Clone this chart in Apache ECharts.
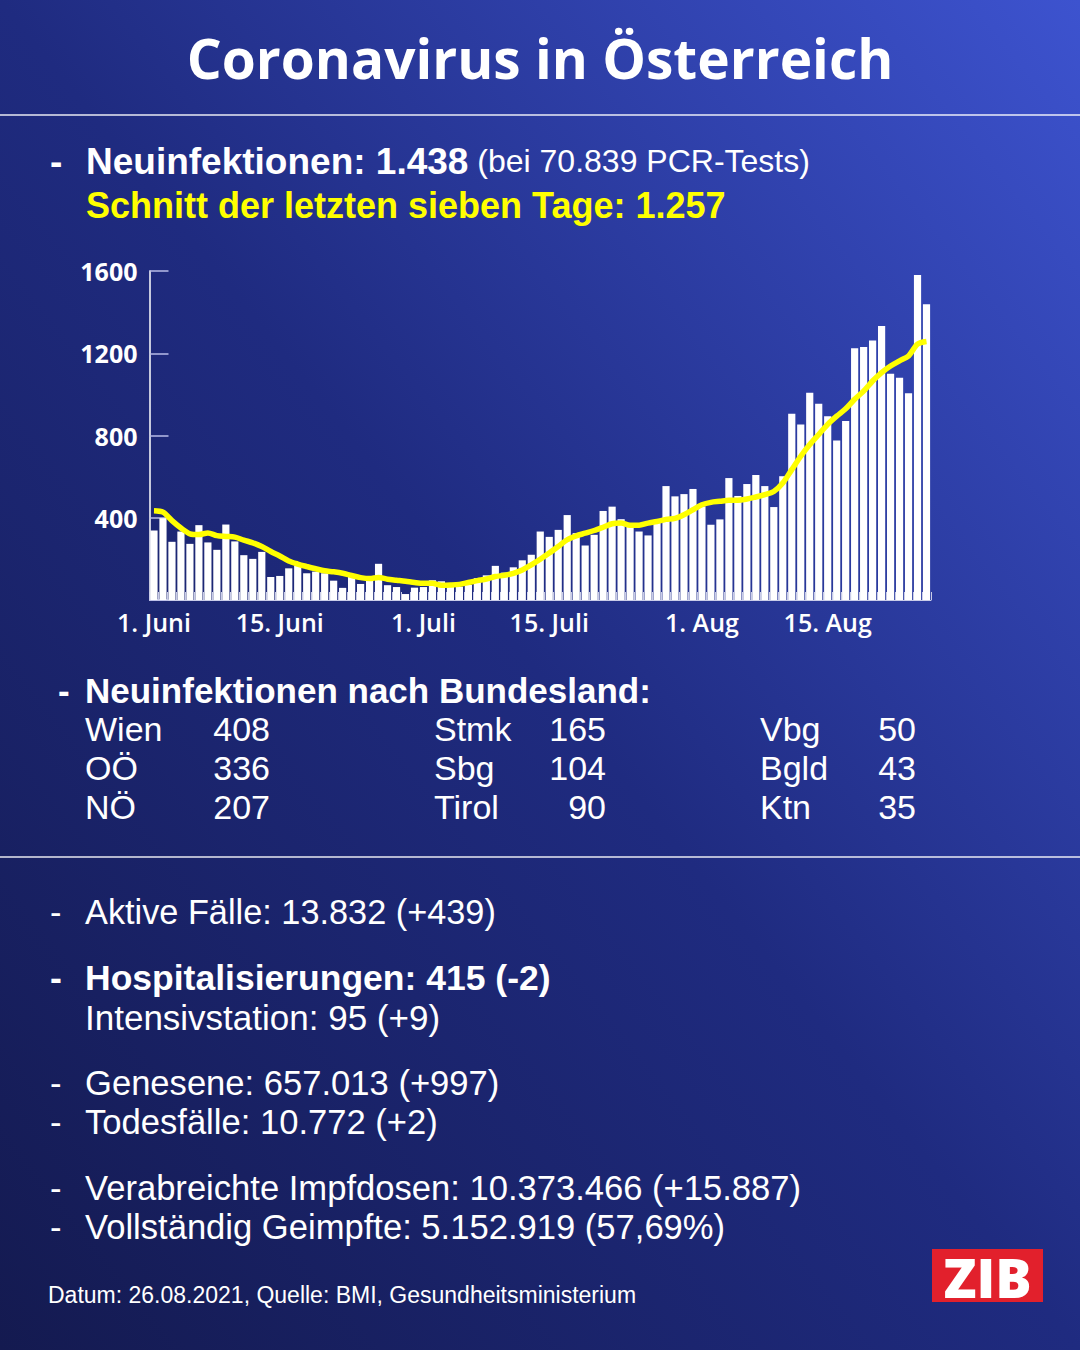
<!DOCTYPE html>
<html>
<head>
<meta charset="utf-8">
<script src="https://cdn.jsdelivr.net/npm/echarts@6/dist/echarts.min.js"></script>
<style>
html,body{margin:0;padding:0;width:1080px;height:1350px;overflow:hidden;background:#1c2670;}
#c{width:1080px;height:1350px;}
</style>
</head>
<body>
<div id="c"></div>
<script>
// ---- Data ----
const newCases = [
  338,398,283,333,273,364,280,244,367,285,218,200,234,112,117,154,167,130,138,130,94,59,114,78,94,176,72,63,29,60,
  63,96,91,73,65,73,106,120,166,133,159,193,220,333,307,341,413,325,265,317,433,454,393,365,333,314,374,554,504,515,540,
  455,366,392,593,506,564,608,554,452,602,906,854,1008,954,894,776,870,1224,1230,1262,1333,1100,1081,1005,1580,1438
];
const avg7 = [
  434,427,386,350,322,318,326,313,309,306,291,278,260,236,214,190,175,163,152,142,137,130,119,109,104,110,101,96,91,85,
  81,81,72,73,76,85,94,102,114,120,130,146,171,198,228,260,293,312,325,338,354,371,374,364,364,374,382,392,397,415,439,
  463,475,480,485,485,491,501,512,528,569,634,699,756,805,854,894,930,976,1016,1065,1106,1138,1163,1187,1244,1257
];
const monthNames = ['Juni','Juli','Aug'];
const monthLengths = [30,31,26];
const tickIndex = [0,14,30,44,61,75];
const tickLabels = ['1. Juni','15. Juni','1. Juli','15. Juli','1. Aug','15. Aug'];
const yTicks = [400,800,1200,1600];

const states = [
  ['Wien',408],['OÖ',336],['NÖ',207],
  ['Stmk',165],['Sbg',104],['Tirol',90],
  ['Vbg',50],['Bgld',43],['Ktn',35]
];

const days = [];
monthNames.forEach((m,mi)=>{ for(let d=1; d<=monthLengths[mi]; d++) days.push(d+'. '+m); });

// ---- Layout ----
const FT = '"Open Sans", "Noto Sans", sans-serif';
const FB = '"Liberation Sans", Arial, sans-serif';
const W = '#ffffff';
const graphics = [];
function txt(x,y,text,size,weight,color,align,fam){
  graphics.push({type:'text', x:x, y:y, z:10, style:{text:text, fill:color||W,
    font: (weight||'normal')+' '+size+'px '+(fam||FB), lineHeight:Math.round(size*0.95),
    align:align||'left', verticalAlign:'middle'}});
}
function hline(y){
  graphics.push({type:'line', z:5, shape:{x1:0,y1:y,x2:1080,y2:y}, style:{stroke:'rgba(255,255,255,0.9)', lineWidth:1.5}});
}

txt(540,57,'Coronavirus in Österreich',55,'bold',W,'center',FT);
hline(115);
txt(50,161,'-',37,'bold');
graphics.push({type:'text', x:86, y:161, z:10, style:{
  text:'{b|Neuinfektionen: 1.438}{n| (bei 70.839 PCR-Tests)}', verticalAlign:'middle', lineHeight:35,
  rich:{ b:{fill:W, font:'bold 37px '+FB, lineHeight:35}, n:{fill:W, font:'normal 32px '+FB, lineHeight:35} } }});
txt(86,205,'Schnitt der letzten sieben Tage: 1.257',36,'bold','#ffff00');

txt(58,690,'-',35,'bold');
txt(85,690,'Neuinfektionen nach Bundesland:',35,'bold');
const colName = [85,434,760], colNum = [270,606,916], rowY = [729,768,807];
states.forEach((s,i)=>{
  const c = Math.floor(i/3), r = i%3;
  txt(colName[c], rowY[r], s[0], 34, 'normal');
  txt(colNum[c], rowY[r], String(s[1]), 34, 'normal', W, 'right');
});
hline(857);

const stats = [
  [912,'Aktive Fälle: 13.832 (+439)','normal',true,34.3],
  [977.5,'Hospitalisierungen: 415 (-2)','bold',true,35.5],
  [1017.5,'Intensivstation: 95 (+9)','normal',false,35],
  [1082.5,'Genesene: 657.013 (+997)','normal',true,34.6],
  [1121.5,'Todesfälle: 10.772 (+2)','normal',true,34.6],
  [1188,'Verabreichte Impfdosen: 10.373.466 (+15.887)','normal',true,34.6],
  [1227,'Vollständig Geimpfte: 5.152.919 (57,69%)','normal',true,34.6]
];
stats.forEach(s=>{
  if(s[3]) txt(50,s[0],'-',s[4],s[2]);
  txt(85,s[0],s[1],s[4],s[2]);
});
txt(48,1295,'Datum: 26.08.2021, Quelle: BMI, Gesundheitsministerium',23,'normal');

graphics.push({type:'rect', z:10, shape:{x:932,y:1249,width:111,height:53}, style:{fill:'#e2202c'}});
txt(987.5,1277,'ZIB',54,'800',W,'center',FT);

const chart = echarts.init(document.getElementById('c'), null, {renderer:'svg'});
chart.setOption({
  backgroundColor:{type:'linear', x:0, y:1, x2:1, y2:0, colorStops:[
    {offset:0,color:'#141a50'},{offset:0.5,color:'#1f2b80'},{offset:1,color:'#3d53cf'}]},
  animation:false,
  grid:{left:149.5, right:149, top:271, bottom:750},
  xAxis:{type:'category', data:days, boundaryGap:true,
    axisLine:{show:true, lineStyle:{color:'#c9cce8', width:1}},
    axisTick:{show:true, inside:true, length:8, interval:0, lineStyle:{color:'#c9cce8'}},
    axisLabel:{interval:0, margin:9, color:W, fontFamily:FT, fontSize:25, fontWeight:600,
      formatter:(v,i)=>{ const k = tickIndex.indexOf(i); return k>=0 ? tickLabels[k] : ''; }},
    splitLine:{show:false}},
  yAxis:{type:'value', min:0, max:1600, interval:400,
    axisLine:{show:true, lineStyle:{color:W, width:1.5}},
    axisTick:{show:true, inside:true, length:19, lineStyle:{color:'#b8bde8', width:1.5}},
    axisLabel:{margin:12, color:W, fontFamily:FT, fontSize:25, fontWeight:'bold',
      formatter:v=> yTicks.indexOf(v)>=0 ? String(v) : ''},
    splitLine:{show:false}},
  series:[
    {type:'bar', data:newCases, barCategoryGap:'20%', itemStyle:{color:W}, z:2},
    {type:'line', data:avg7, smooth:0.3, symbol:'none', z:3,
     lineStyle:{color:'#ffff00', width:5.5}}
  ],
  graphic:graphics
});
</script>
</body>
</html>
